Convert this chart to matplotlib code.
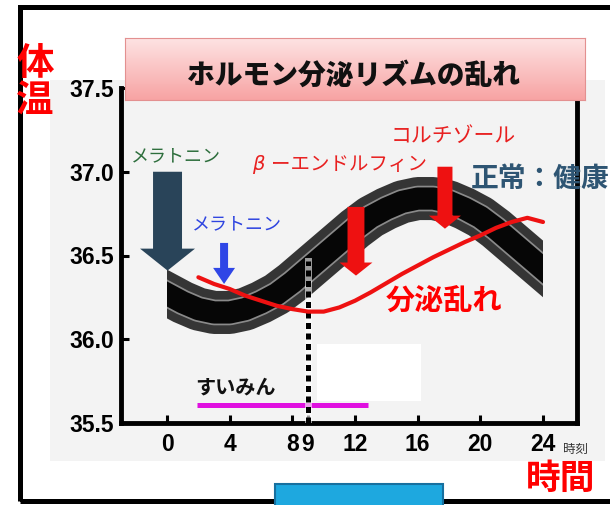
import matplotlib.pyplot as plt
import matplotlib.patches as mpatches
import numpy as np

plt.rcParams['font.family'] = ['Noto Sans CJK JP', 'DejaVu Sans']

# 時刻 (0〜24時)
hours = list(range(25))
# 正常なリズム（健康）
normal_temp = [36.27, 36.22, 36.18, 36.16, 36.16, 36.18, 36.22, 36.27, 36.34, 36.42,
               36.50, 36.58, 36.66, 36.73, 36.78, 36.82, 36.84, 36.84, 36.82, 36.78,
               36.73, 36.66, 36.58, 36.50, 36.42]
# 分泌が乱れたときのリズム
disturbed_hours = list(range(2, 25))
disturbed_temp = [36.37, 36.33, 36.30, 36.26, 36.23, 36.20, 36.18, 36.165, 36.165, 36.19,
                  36.23, 36.28, 36.335, 36.39, 36.44, 36.49, 36.535, 36.58, 36.62, 36.665,
                  36.70, 36.725, 36.70]
# すいみん時間帯
sleep_span = [1.9, 12.8]
sleep_level = 35.61
wake_hour = 9
wake_top = 36.47

x_ticks = [0, 4, 8, 9, 12, 16, 20, 24]
y_ticks = [35.5, 36.0, 36.5, 37.0, 37.5]

W, H = 610, 505


def fx(x):
    return x / W


def fy(y):
    return 1 - y / H


fig = plt.figure(figsize=(6.1, 5.05), dpi=100)

# 背景のグレー
fig.patches.append(mpatches.Rectangle((fx(50), fy(461)), fx(555), 381 / H,
                                      transform=fig.transFigure, fc='#f3f3f3',
                                      ec='none', zorder=-1))

ax = fig.add_axes([fx(121), fy(423), fx(456), (423 - 88) / H])
ax.set_facecolor('none')
ax.set_xlim(-2.94, 26.17)
ax.set_ylim(35.5, 37.5)
ax.spines['top'].set_visible(False)
for s in ['left', 'bottom', 'right']:
    ax.spines[s].set_linewidth(3.5)
ax.set_xticks(x_ticks)
ax.set_yticks(y_ticks)
ax.set_xticklabels([str(t) for t in x_ticks])
ax.set_yticklabels([f'{t:.1f}' for t in y_ticks])
ax.tick_params(direction='in', length=6, width=2.2)
ax.tick_params(axis='y', pad=5)
ax.tick_params(axis='x', pad=7)
for lab in ax.get_xticklabels() + ax.get_yticklabels():
    lab.set_family(['Liberation Sans', 'DejaVu Sans'])
    lab.set_fontweight('bold')
    lab.set_fontsize(16.5)

# 正常なリズムの太い帯
clip = mpatches.Rectangle((0, 35.5), 24, 2, transform=ax.transData)
for lw, col in [(31, '#353535'), (18.5, '#8a8a8a'), (16, '#060606')]:
    ln, = ax.plot(hours, normal_temp, color=col, lw=lw,
                  solid_capstyle='projecting', solid_joinstyle='round', zorder=2)
    ln.set_clip_path(clip)

# すいみん
ax.plot(sleep_span, [sleep_level, sleep_level], color='#e010e0', lw=3.6,
        solid_capstyle='butt', zorder=3)
ax.add_patch(mpatches.Rectangle((9.6, 35.63), 6.6, 0.34, fc='white', ec='none', zorder=3))

# 起床時刻の点線
ax.plot([wake_hour, wake_hour], [35.5, wake_top], color='white', lw=5, alpha=0.6, zorder=3.5)
ax.plot([wake_hour, wake_hour], [35.5, wake_top], color='black', lw=3.6,
        linestyle=(0, (1.2, 0.9)), dash_capstyle='butt', zorder=4)

# 乱れたリズム
ax.plot(disturbed_hours, disturbed_temp, color='#ee1111', lw=3, zorder=5,
        solid_capstyle='round', solid_joinstyle='round')

# ホルモンの矢印
arrows = [
    (0.03, 37.0, 36.41, 1.85, 3.51, 0.131, '#294459'),
    (3.64, 36.575, 36.33, 0.51, 1.40, 0.096, '#2f46e6'),
    (12.06, 36.79, 36.38, 1.08, 2.10, 0.078, '#ee1111'),
    (17.74, 37.03, 36.66, 0.96, 2.04, 0.078, '#ee1111'),
]
for x, y0, y1, w, hw, hl, col in arrows:
    ax.add_patch(mpatches.FancyArrow(x, y0, 0, y1 - y0, width=w, head_width=hw,
                                     head_length=hl, length_includes_head=True,
                                     fc=col, ec='none', zorder=6))

# タイトルの枠（グラデーション）
tax = fig.add_axes([fx(125), fy(100), fx(460), 62 / H])
tax.set_zorder(2)
grad = np.linspace(0, 1, 100).reshape(-1, 1)
top_c = np.array([0.995, 0.89, 0.89])
bot_c = np.array([0.97, 0.64, 0.64])
img = top_c * (1 - grad[..., None]) + bot_c * grad[..., None]
tax.imshow(img, aspect='auto', extent=[0, 1, 0, 1])
tax.set_xticks([])
tax.set_yticks([])
for s in tax.spines.values():
    s.set_color('#e39090')
    s.set_linewidth(0.8)

fig.text(fx(354), fy(75), 'ホルモン分泌リズムの乱れ', fontsize=20, fontweight='heavy',
         ha='center', va='center', color='#111111', zorder=10)

# ラベル
fig.text(fx(35), fy(64), '体', fontsize=27, fontweight='bold', color='#ff0000',
         ha='center', va='center', zorder=10)
fig.text(fx(35), fy(101), '温', fontsize=27, fontweight='bold', color='#ff0000',
         ha='center', va='center', zorder=10)
fig.text(fx(176), fy(156), 'メラトニン', fontsize=13, color='#2d6e3c',
         ha='center', va='center', zorder=10)
fig.text(fx(237), fy(224), 'メラトニン', fontsize=13, color='#2e44e0',
         ha='center', va='center', zorder=10)
fig.text(fx(258), fy(164), 'β', fontsize=14, color='#e82020', style='italic',
         family='DejaVu Sans', ha='center', va='center', zorder=10)
fig.text(fx(271), fy(164), 'ーエンドルフィン', fontsize=14, color='#e82020',
         ha='left', va='center', zorder=10)
fig.text(fx(391), fy(136), 'コルチゾール', fontsize=15, color='#e82020',
         ha='left', va='center', zorder=10)
fig.text(fx(386), fy(302), '分泌乱れ', fontsize=21, fontweight='bold', color='#ff0000',
         ha='left', va='center', zorder=10)
fig.text(fx(471), fy(179), '正常：健康', fontsize=20, fontweight='bold', color='#2e5573',
         ha='left', va='center', zorder=10)
fig.text(fx(235), fy(387), 'すいみん', fontsize=14.5, fontweight='bold', color='#111111',
         ha='center', va='center', zorder=10)
fig.text(fx(575), fy(449), '時刻', fontsize=9, color='#333333',
         ha='center', va='center', zorder=10)
fig.text(fx(561), fy(478), '時間', fontsize=25, fontweight='bold', color='#ff0000',
         ha='center', va='center', zorder=10)

# 外枠と下の青い枠
fig.patches.append(mpatches.Rectangle((fx(19.5), fy(501)), fx(700), (501 - 6.5) / H,
                                      transform=fig.transFigure, fill=False,
                                      ec='black', lw=3.6, zorder=5))
fig.patches.append(mpatches.Rectangle((fx(275), fy(515)), fx(168), 31 / H,
                                      transform=fig.transFigure, fc='#1ea8df',
                                      ec='#17709f', lw=1.5, zorder=6))

fig.savefig('out.png', dpi=100)
